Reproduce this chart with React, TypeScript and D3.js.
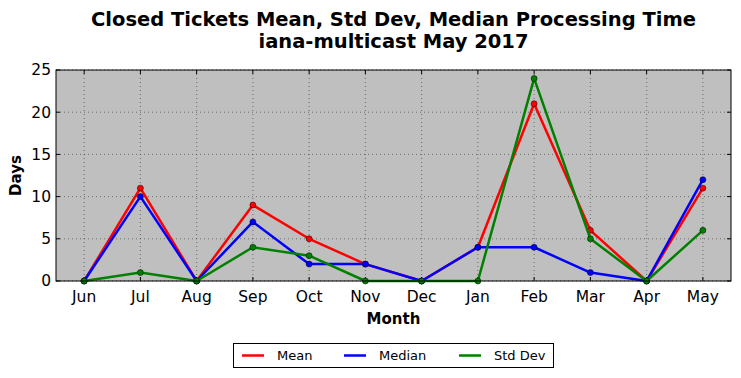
import React from "react";
import * as d3 from "d3";

const months = ["Jun", "Jul", "Aug", "Sep", "Oct", "Nov", "Dec", "Jan", "Feb", "Mar", "Apr", "May"];
const meanValues = [0, 11, 0, 9, 5, 2, 0, 4, 21, 6, 0, 11];
const medianValues = [0, 10, 0, 7, 2, 2, 0, 4, 4, 1, 0, 12];
const stdValues = [0, 1, 0, 4, 3, 0, 0, 0, 24, 5, 0, 6];
const yTicks = [0, 5, 10, 15, 20, 25];
const seriesNames = ["Mean", "Median", "Std Dev"];
const seriesColors = ["#ff0000", "#0000ff", "#008000"];

export default function App() {
  const W = 741, H = 378;
  const L = 56, R = 731, T = 70, B = 281;
  const x = d3.scalePoint<string>().domain(months).range([L, R]).padding(0.5);
  const y = d3.scaleLinear().domain([0, 25]).range([B, T]);
  const series = [meanValues, medianValues, stdValues];
  const line = d3.line<number>().x((_, i) => x(months[i]) as number).y((d) => y(d));
  const font = "DejaVu Sans, sans-serif";
  const legendX = [242, 344, 459];
  return (
    <svg width={W} height={H} style={{ position: "absolute", left: 0, top: 0 }} fontFamily={font}>
      <rect x={0} y={0} width={W} height={H} fill="#ffffff" />
      <text x={(L + R) / 2} y={26} textAnchor="middle" fontSize={19.5} fontWeight="bold">
        Closed Tickets Mean, Std Dev, Median Processing Time
      </text>
      <text x={(L + R) / 2} y={48} textAnchor="middle" fontSize={19.5} fontWeight="bold">
        iana-multicast May 2017
      </text>
      <rect x={L} y={T} width={R - L} height={B - T} fill="#bfbfbf" />
      {yTicks.map((t) => (
        <line key={"gy" + t} x1={L} x2={R} y1={y(t)} y2={y(t)} stroke="#333" strokeOpacity={0.6} strokeDasharray="1,3" strokeWidth={1} />
      ))}
      {months.map((m) => (
        <line key={"gx" + m} x1={x(m)} x2={x(m)} y1={T} y2={B} stroke="#333" strokeOpacity={0.6} strokeDasharray="1,3" strokeWidth={1} />
      ))}
      {yTicks.map((t) => (
        <g key={"ty" + t}>
          <line x1={L} x2={L + 4} y1={y(t)} y2={y(t)} stroke="#000" />
          <line x1={R - 4} x2={R} y1={y(t)} y2={y(t)} stroke="#000" />
          <text x={L - 5} y={y(t)} dy="0.35em" textAnchor="end" fontSize={15.5}>{t}</text>
        </g>
      ))}
      {months.map((m) => (
        <g key={"tx" + m}>
          <line x1={x(m)} x2={x(m)} y1={B} y2={B - 4} stroke="#000" />
          <line x1={x(m)} x2={x(m)} y1={T} y2={T + 4} stroke="#000" />
          <text x={x(m)} y={B + 21} textAnchor="middle" fontSize={15.5}>{m}</text>
        </g>
      ))}
      {series.map((s, si) => (
        <g key={"s" + si}>
          <path d={line(s) || ""} fill="none" stroke={seriesColors[si]} strokeWidth={2.5} strokeLinejoin="round" />
          {s.map((v, i) => (
            <circle key={i} cx={x(months[i])} cy={y(v)} r={3} fill={seriesColors[si]} stroke="#000" strokeWidth={0.5} />
          ))}
        </g>
      ))}
      <rect x={L} y={T} width={R - L} height={B - T} fill="none" stroke="#000" strokeWidth={1} />
      <text transform={`translate(21,${(T + B) / 2}) rotate(-90)`} textAnchor="middle" fontSize={15} fontWeight="bold">Days</text>
      <text x={(L + R) / 2} y={324} textAnchor="middle" fontSize={15} fontWeight="bold">Month</text>
      <rect x={233.5} y={343.5} width={320} height={24} fill="#fff" stroke="#000" strokeWidth={1} />
      {seriesNames.map((n, i) => (
        <g key={"lg" + n}>
          <line x1={legendX[i]} x2={legendX[i] + 22} y1={355.5} y2={355.5} stroke={seriesColors[i]} strokeWidth={2.5} />
          <text x={legendX[i] + 35} y={355.5} dy="0.35em" fontSize={13}>{n}</text>
        </g>
      ))}
    </svg>
  );
}
